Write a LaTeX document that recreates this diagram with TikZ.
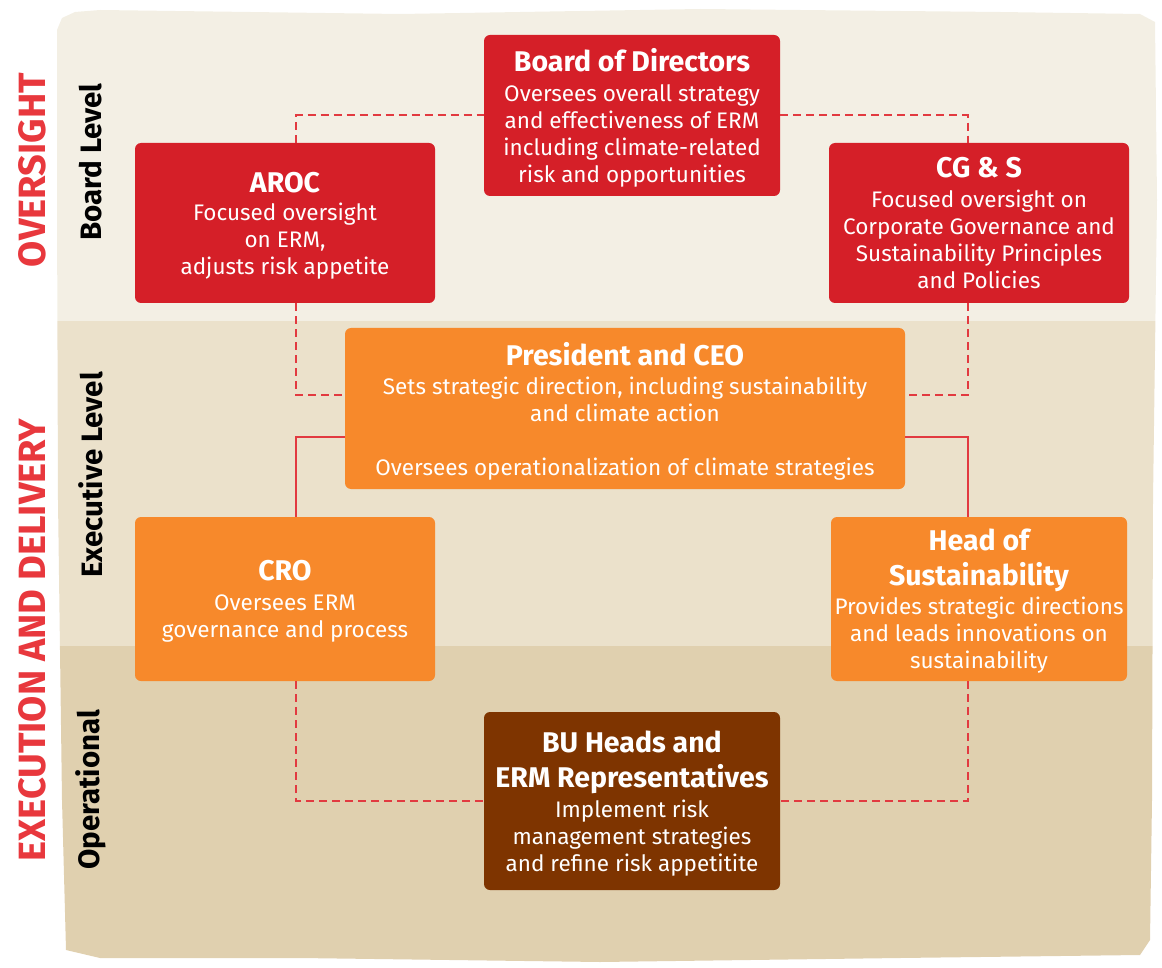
\documentclass[tikz,border=0pt]{standalone}
\usepackage{fontspec}
\setmainfont{Fira Sans}
\usepackage{tikz}
\usetikzlibrary{shapes,arrows,positioning}
\definecolor{paperA}{HTML}{F3EFE4}
\definecolor{paperB}{HTML}{EBE1CB}
\definecolor{paperC}{HTML}{E0D0AF}
\definecolor{boardred}{HTML}{D51F28}
\definecolor{execorange}{HTML}{F7892B}
\definecolor{opsbrown}{HTML}{7E3400}
\definecolor{linkred}{HTML}{E23A40}
\definecolor{tagred}{HTML}{E8383D}
\newcommand{\ttl}[1]{{\bfseries\fontsize{28.5}{33}\selectfont #1}}

\begin{document}
\begin{tikzpicture}[x=1pt,y=-1pt]
\useasboundingbox (0,0) rectangle (1162,968);

\begin{scope}
\clip (57,30) -- (62,18) -- (75,12) -- (100,10) -- (400,14) -- (700,9) -- (1000,12)
  -- (1140,14) -- (1155,22) -- (1157,200) -- (1153,500) -- (1152,800)
  -- (1150,940) -- (1140,955) -- (900,958) -- (600,962) -- (300,958)
  -- (100,958) -- (66,950) -- (62,800) -- (58,500) -- (57,200) -- cycle;
\fill[paperA] (0,0) rectangle (1162,321);
\fill[paperB] (0,321) rectangle (1162,646);
\fill[paperC] (0,646) rectangle (1162,968);
\end{scope}

\tikzstyle{unit}=[rounded corners=6pt, text=white, align=center, inner sep=0pt,
  text depth=-7pt, font=\fontsize{22.5}{27}\selectfont]
\tikzstyle{boardbox}=[unit, fill=boardred]
\tikzstyle{execbox}=[unit, fill=execorange]
\tikzstyle{opsbox}=[unit, fill=opsbrown]
\tikzstyle{dashlink}=[linkred, line width=2pt, dash pattern=on 8pt off 5pt]
\tikzstyle{solidlink}=[linkred, line width=2pt]
\tikzstyle{tier}=[rotate=90, text=tagred, font=\bfseries\fontsize{38}{38}\selectfont]
\tikzstyle{level}=[rotate=90, font=\bfseries\fontsize{29.5}{29.5}\selectfont]

\node[tier] (oversight) at (32,170) {OVERSIGHT};
\node[tier] (execution) at (32,640) {EXECUTION AND DELIVERY};
\node[level] (boardlvl) at (91,162) {Board Level};
\node[level] (execlvl) at (91,475) {Executive Level};
\node[level] (opslvl) at (91,790) {Operational};

\node[boardbox, minimum width=296pt, minimum height=161pt] (board) at (632,115.5)
  {\ttl{Board of Directors}\\[3pt]Oversees overall strategy\\and effectiveness of ERM\\including climate-related\\risk and opportunities};
\node[boardbox, minimum width=300pt, minimum height=160pt] (aroc) at (285,223)
  {\ttl{AROC}\\[1pt]Focused oversight\\on ERM,\\adjusts risk appetite};
\node[boardbox, minimum width=300pt, minimum height=160pt] (cgs) at (979,223)
  {\ttl{CG \& S}\\[3pt]Focused oversight on\\Corporate Governance and\\Sustainability Principles\\and Policies};
\node[execbox, minimum width=560pt, minimum height=161pt] (ceo) at (625,408.5)
  {\ttl{President and CEO}\\[2pt]Sets strategic direction, including sustainability\\and climate action\\[27pt]Oversees operationalization of climate strategies};
\node[execbox, minimum width=300pt, minimum height=164pt] (cro) at (285,599)
  {\ttl{CRO}\\[3pt]Oversees ERM\\governance and process};
\node[execbox, minimum width=296pt, minimum height=164pt] (head) at (979,599)
  {\ttl{Head of}\\[8pt]\ttl{Sustainability}\\[2pt]Provides strategic directions\\and leads innovations on\\sustainability};
\node[opsbox, minimum width=296pt, minimum height=178pt] (bu) at (632,801)
  {\ttl{BU Heads and}\\[8pt]\ttl{ERM Representatives}\\[3pt]Implement risk\\management strategies\\and refine risk appetitite};

\coordinate (lx) at (296,0);
\coordinate (rx) at (968,0);

\draw[dashlink] (aroc.north -| lx) |- (board.west);
\draw[dashlink] (board.east) -| (cgs.north -| rx);
\draw[dashlink] (aroc.south -| lx) |- ([yshift=13.5pt]ceo.west);
\draw[dashlink] (cgs.south -| rx) |- ([yshift=13.5pt]ceo.east);
\draw[solidlink] ([yshift=-28.5pt]ceo.west) -| (cro.north -| lx);
\draw[solidlink] ([yshift=-28.5pt]ceo.east) -| (head.north -| rx);
\draw[dashlink] (cro.south -| lx) |- (bu.west);
\draw[dashlink] (head.south -| rx) |- (bu.east);
\end{tikzpicture}
\end{document}
